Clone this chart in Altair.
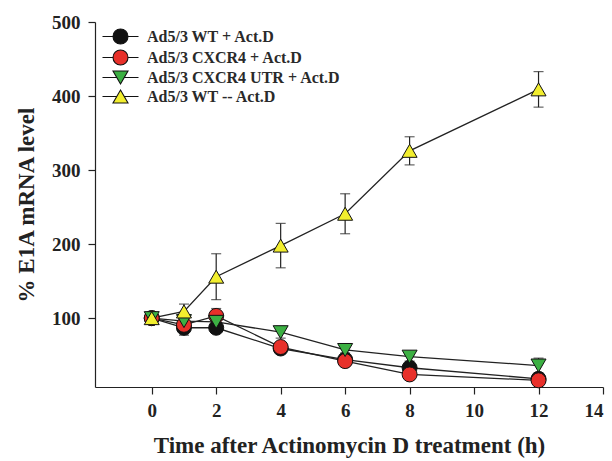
import altair as alt
import pandas as pd

times = [0, 1, 2, 4, 6, 8, 12]
series_names = ["Ad5/3 WT + Act.D", "Ad5/3 CXCR4 + Act.D", "Ad5/3 CXCR4 UTR + Act.D", "Ad5/3 WT  -- Act.D"]
wt_actd = [100, 87, 87, 59, 44, 33, 18]
wt_actd_err = [4, 10, 5, 4, 3, 3, 2]
cxcr4_actd = [100, 91, 103, 61, 42, 24, 16]
cxcr4_actd_err = [3, 5, 10, 5, 4, 3, 3]
utr_actd = [100, 96, 95, 81, 57, 48, 36]
utr_actd_err = [3, 4, 4, 8, 4, 6, 10]
wt_noactd = [100, 109, 156, 198, 241, 326, 409]
wt_noactd_err = [5, 10, 31, 30, 27, 19, 24]

fills = ["#111111", "#e8302a", "#3cb043", "#f2ee2e"]
outline = ["#111111", "#111111", "#111111", "#111111"]
shapes = ["circle", "circle", "triangle-down", "triangle-up"]
legend_paths = [
    "M-2.4,0L-1,0M1,0L2.4,0M1,0A1,1,0,1,1,-1,0A1,1,0,1,1,1,0Z",
    "M-2.4,0L-1,0M1,0L2.4,0M1,0A1,1,0,1,1,-1,0A1,1,0,1,1,1,0Z",
    "M-2.4,0L-0.5,0M0.5,0L2.4,0M0,0.866L1,-0.866L-1,-0.866Z",
    "M-2.4,0L-0.5,0M0.5,0L2.4,0M0,-0.866L1,0.866L-1,0.866Z",
]

rows = []
for idx, (name, vals, errs) in enumerate(zip(
        series_names,
        [wt_actd, cxcr4_actd, utr_actd, wt_noactd],
        [wt_actd_err, cxcr4_actd_err, utr_actd_err, wt_noactd_err])):
    for t, v, e in zip(times, vals, errs):
        rows.append({"series": name, "order": idx, "time": t, "value": v,
                     "lo": v - e, "hi": v + e})
df = pd.DataFrame(rows)

FONT = "Liberation Serif"
Y_TITLE = "% E1A mRNA level"
X_TITLE = "Time after Actinomycin D treatment (h)"

x_scale = alt.Scale(domain=[-1.76, 14], nice=False, zero=False)
y_scale = alt.Scale(domain=[7, 500], nice=False, zero=False)
x_enc = alt.X("time:Q", scale=x_scale, title=X_TITLE,
              axis=alt.Axis(values=[0, 2, 4, 6, 8, 10, 12, 14], format="d"))
y_enc = alt.Y("value:Q", scale=y_scale, title=Y_TITLE,
              axis=alt.Axis(values=[100, 200, 300, 400, 500], format="d"))

base = alt.Chart(df)

err = base.mark_errorbar(ticks=alt.MarkConfig(size=10, color="#222222", strokeWidth=1.2),
                         color="#222222", thickness=1.2).encode(
    x=alt.X("time:Q", title=X_TITLE),
    y=alt.Y("lo:Q", title=Y_TITLE),
    y2="hi:Q",
    detail="series:N",
)

lines = base.mark_line(color="#222222", strokeWidth=1.3).encode(
    x=x_enc, y=y_enc, detail="series:N", order="time:Q")

leg = dict(title=None, orient="none", legendX=17, legendY=6,
           symbolOpacity=1, symbolSize=225, symbolStrokeWidth=1.1,
           labelFont=FONT, labelFontSize=16, labelFontWeight="bold",
           labelColor="#2a2a2a", labelOffset=18, rowPadding=0, labelLimit=400)

legend_layer = base.mark_point(filled=True, opacity=0, size=225, strokeWidth=1.1).encode(
    x="time:Q", y="value:Q",
    shape=alt.Shape("series:N", scale=alt.Scale(domain=series_names, range=legend_paths),
                    legend=alt.Legend(**leg)),
    fill=alt.Fill("series:N", scale=alt.Scale(domain=series_names, range=fills),
                  legend=alt.Legend(**leg)),
    stroke=alt.Stroke("series:N", scale=alt.Scale(domain=series_names, range=outline),
                      legend=alt.Legend(**leg)),
)

points = base.mark_point(filled=True, size=225, stroke="#111111", strokeWidth=1, opacity=1).encode(
    x="time:Q", y="value:Q",
    shape=alt.Shape("series:N", scale=alt.Scale(domain=series_names, range=shapes), legend=None),
    fill=alt.Fill("series:N", scale=alt.Scale(domain=series_names, range=fills), legend=None),
    order="order:Q",
)

chart = alt.layer(err, lines, legend_layer, points).resolve_scale(
    shape="independent", fill="independent", stroke="independent"
).properties(
    width=508, height=365,
    autosize=alt.AutoSizeParams(type="none"),
    padding={"left": 95, "top": 22, "right": 9, "bottom": 74},
    background="white",
).configure_view(stroke=None).configure_axis(
    grid=False,
    domainColor="#222222", domainWidth=1.2,
    tickColor="#222222", tickWidth=1.2, tickSize=7,
    labelFont=FONT, labelFontSize=19, labelFontWeight="bold", labelColor="#222222",
    titleFont=FONT, titleFontSize=23, titleFontWeight="bold", titleColor="#222222",
).configure_axisX(labelPadding=7, titlePadding=14).configure_axisY(labelPadding=8, titlePadding=13)

chart.save("out.html", embed_options={"renderer": "svg", "actions": False})
